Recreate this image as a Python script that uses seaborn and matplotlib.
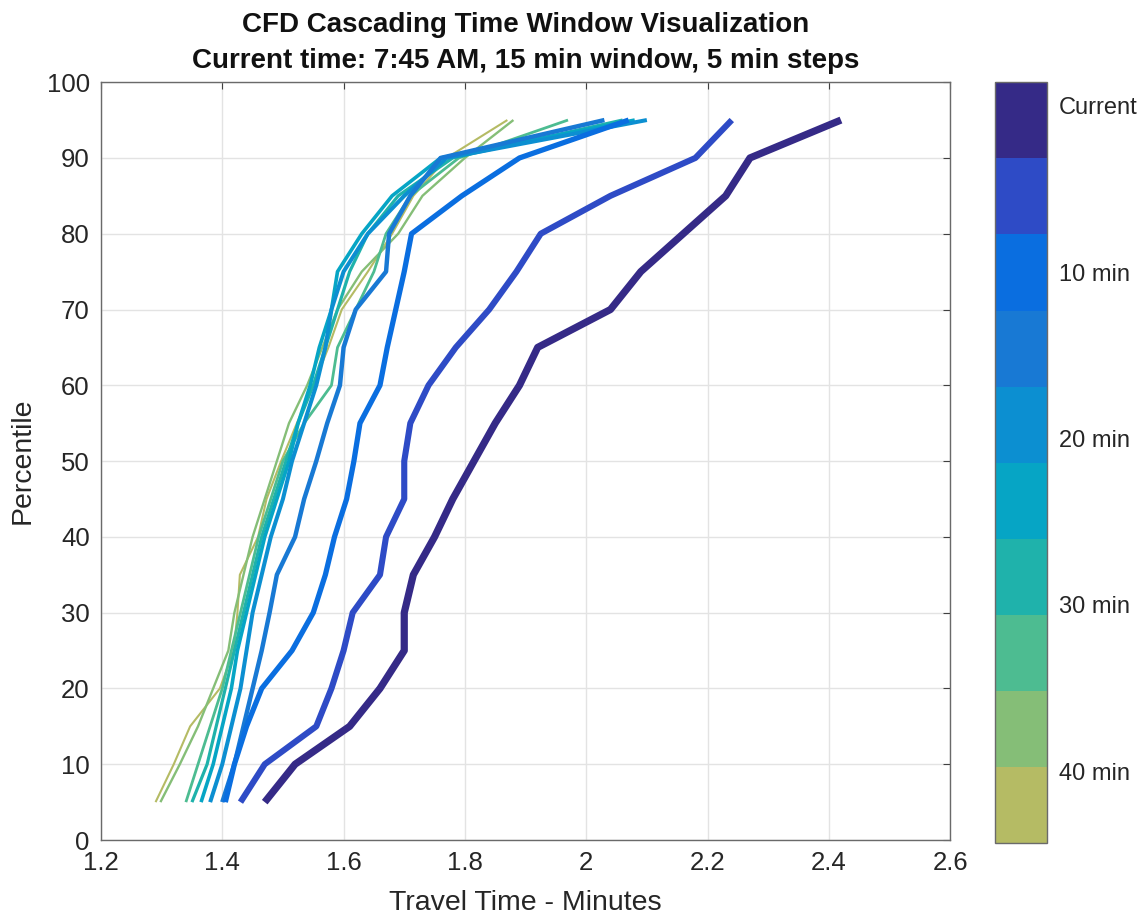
import numpy as np
import pandas as pd
import matplotlib
matplotlib.use("Agg")
import matplotlib.pyplot as plt
import matplotlib.colors as mcolors
import matplotlib.colorbar as mcolorbar
import seaborn as sns

percentiles = [5, 10, 15, 20, 25, 30, 35, 40, 45, 50, 55, 60, 65, 70, 75, 80, 85, 90, 95]

windows = ["Current", "5 min", "10 min", "15 min", "20 min", "25 min", "30 min", "35 min", "40 min", "45 min"]
window_minutes = [0, 5, 10, 15, 20, 25, 30, 35, 40, 45]

t_current = [1.47, 1.52, 1.61, 1.66, 1.70, 1.70, 1.715, 1.75, 1.78, 1.815, 1.85, 1.89, 1.92, 2.04, 2.09, 2.16, 2.23, 2.27, 2.42]
t_05 = [1.43, 1.47, 1.555, 1.58, 1.60, 1.615, 1.66, 1.67, 1.70, 1.70, 1.71, 1.74, 1.785, 1.84, 1.885, 1.925, 2.04, 2.18, 2.24]
t_10 = [1.405, 1.42, 1.44, 1.465, 1.515, 1.55, 1.57, 1.585, 1.605, 1.617, 1.627, 1.66, 1.672, 1.686, 1.70, 1.712, 1.795, 1.89, 2.07]
t_15 = [1.40, 1.42, 1.435, 1.45, 1.465, 1.478, 1.49, 1.52, 1.535, 1.555, 1.573, 1.594, 1.60, 1.62, 1.67, 1.675, 1.71, 1.76, 2.03]
t_20 = [1.38, 1.40, 1.415, 1.43, 1.44, 1.45, 1.465, 1.48, 1.50, 1.515, 1.535, 1.555, 1.57, 1.58, 1.60, 1.64, 1.70, 1.77, 2.10]
t_25 = [1.365, 1.385, 1.40, 1.415, 1.425, 1.44, 1.455, 1.47, 1.49, 1.51, 1.525, 1.545, 1.56, 1.58, 1.59, 1.63, 1.68, 1.76, 2.08]
t_30 = [1.35, 1.375, 1.39, 1.405, 1.42, 1.435, 1.45, 1.465, 1.485, 1.505, 1.525, 1.55, 1.57, 1.59, 1.61, 1.64, 1.69, 1.78, 2.06]
t_35 = [1.34, 1.36, 1.38, 1.40, 1.415, 1.43, 1.445, 1.46, 1.48, 1.50, 1.535, 1.58, 1.59, 1.62, 1.65, 1.67, 1.71, 1.79, 1.97]
t_40 = [1.298, 1.33, 1.36, 1.385, 1.41, 1.42, 1.435, 1.45, 1.47, 1.49, 1.51, 1.54, 1.565, 1.59, 1.63, 1.69, 1.73, 1.80, 1.88]
t_45 = [1.29, 1.32, 1.347, 1.396, 1.419, 1.425, 1.429, 1.459, 1.473, 1.497, 1.523, 1.55, 1.575, 1.597, 1.64, 1.68, 1.715, 1.77, 1.87]

series = [t_current, t_05, t_10, t_15, t_20, t_25, t_30, t_35, t_40, t_45]

colors = ["#352a87", "#2e4bc6", "#0a6ee0", "#1879d4", "#0c8fd1", "#06a5c5", "#1fb2ab", "#4dbc91", "#85be77", "#b5bb64"]
widths = [5.2, 4.4, 3.8, 3.2, 2.9, 2.6, 2.3, 2.0, 1.7, 1.5]

cb_ticks = [0, 10, 20, 30, 40]
cb_ticklabels = ["Current", "10 min", "20 min", "30 min", "40 min"]

sns.set_style("white")
plt.rcParams['font.family'] = ['Liberation Sans', 'DejaVu Sans']

fig = plt.figure(figsize=(11.46, 9.22), dpi=100)
ax = fig.add_axes([0.0881, 0.0889, 0.741, 0.822])

# draw oldest first so current is on top
for i in reversed(range(len(series))):
    df = pd.DataFrame({"time": series[i], "pct": percentiles})
    sns.lineplot(data=df, x="time", y="pct", ax=ax, color=colors[i], linewidth=widths[i],
                 sort=False, estimator=None, solid_capstyle="butt")

ax.set_xlim(1.2, 2.6)
ax.set_ylim(0, 100)
ax.set_xticks(np.arange(1.2, 2.61, 0.2))
ax.set_xticklabels(["1.2", "1.4", "1.6", "1.8", "2", "2.2", "2.4", "2.6"])
ax.set_yticks(np.arange(0, 101, 10))
ax.grid(True, color="#e3e3e3", linewidth=1.0)
ax.set_axisbelow(True)
for s in ax.spines.values():
    s.set_color("#6a6a6a")
    s.set_linewidth(1.0)
ax.tick_params(direction="in", length=5, width=0.8, color="#404040", labelsize=18.5,
               labelcolor="#262626", top=True, right=True)
ax.tick_params(axis="x", pad=8)
ax.tick_params(axis="y", pad=8)
ax.set_xlabel("Travel Time - Minutes", fontsize=20.5, color="#262626", labelpad=11)
ax.set_ylabel("Percentile", fontsize=20.5, color="#262626", labelpad=8)
ax.set_title("CFD Cascading Time Window Visualization\nCurrent time: 7:45 AM, 15 min window, 5 min steps",
             fontsize=20, fontweight="bold", color="#111111", pad=10, linespacing=1.5)

# colorbar
cax = fig.add_axes([0.868, 0.0857, 0.046, 0.825])
cb_lo, cb_hi = -1.4, 44.3
bounds = np.linspace(cb_lo, cb_hi, len(colors) + 1)
cmap = mcolors.ListedColormap(colors)
norm = mcolors.BoundaryNorm(bounds, cmap.N)
cb = mcolorbar.ColorbarBase(cax, cmap=cmap, norm=norm, orientation="vertical", boundaries=bounds)
cax.set_ylim(cb_hi, cb_lo)
cb.set_ticks(cb_ticks)
cb.set_ticklabels(cb_ticklabels)
cax.minorticks_off()
cb.outline.set_edgecolor("#6a6a6a")
cb.outline.set_linewidth(1.0)
cax.yaxis.set_ticks_position("right")
cax.tick_params(which="both", direction="in", length=5, width=0.9, color="#262626", labelsize=17,
                labelcolor="#262626", pad=8)

fig.savefig("out.png", dpi=100, facecolor="white")
